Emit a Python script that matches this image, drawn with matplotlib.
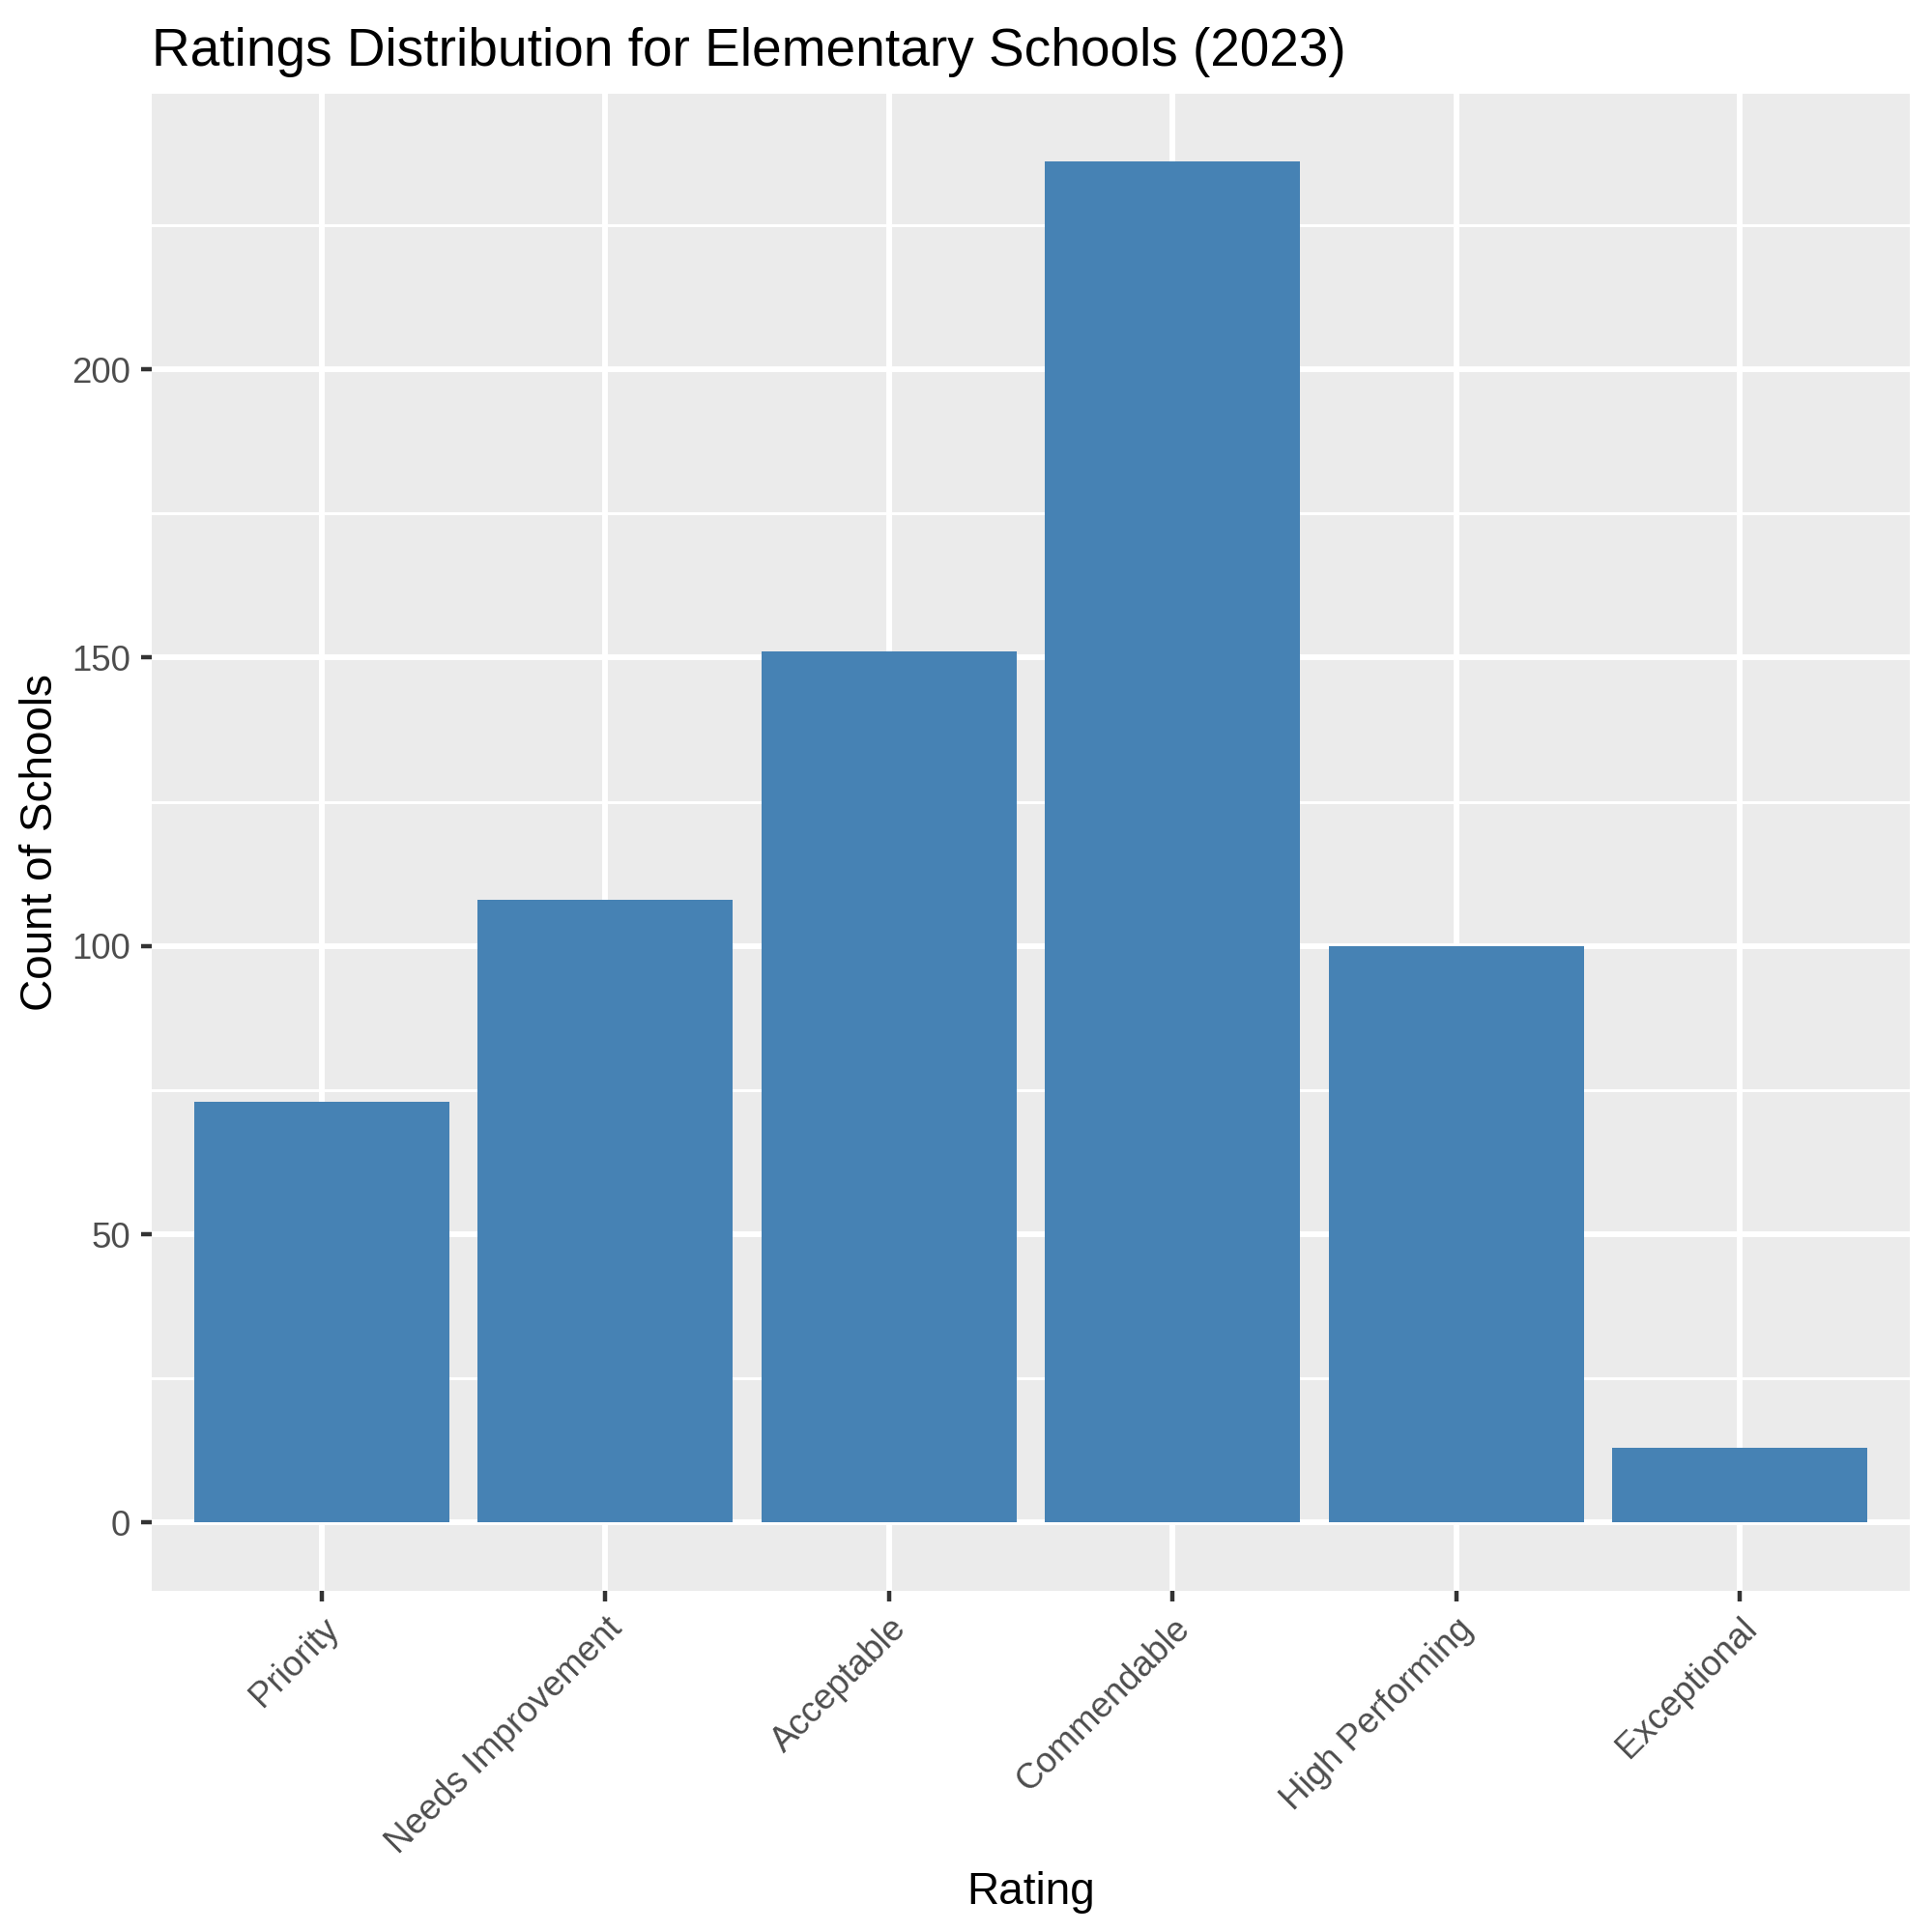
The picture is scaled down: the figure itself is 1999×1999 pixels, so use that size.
import numpy as np
import matplotlib
matplotlib.use("Agg")
from matplotlib import pyplot as plt
from matplotlib.ticker import MultipleLocator

# data
ratings = ["Priority", "Needs Improvement", "Acceptable", "Commendable",
           "High Performing", "Exceptional"]
counts = [73, 108, 151, 236, 100, 13]

plt.rcParams["font.family"] = ["Liberation Sans", "DejaVu Sans"]

fig = plt.figure(figsize=(1999 / 300, 1999 / 300), dpi=300)
ax = fig.add_axes([0.0785, 0.1767, 0.9885 - 0.0785, 0.9515 - 0.1767])

ax.set_facecolor("#EBEBEB")
for s in ax.spines.values():
    s.set_visible(False)

x = np.arange(len(ratings))
ax.bar(x, counts, width=0.9, color="#4682B4", zorder=3)

ymax = max(counts)
ax.set_ylim(-0.05 * ymax, 1.05 * ymax)
ax.set_xlim(-0.6, len(ratings) - 1 + 0.6)

ax.yaxis.set_major_locator(MultipleLocator(50))
ax.yaxis.set_minor_locator(MultipleLocator(25))
ax.set_xticks(x)
ax.set_xticklabels(ratings, rotation=45, ha="right", rotation_mode="anchor")

ax.grid(which="major", color="white", linewidth=1.42, zorder=1)
ax.grid(which="minor", axis="y", color="white", linewidth=0.71, zorder=1)
ax.set_axisbelow(True)

ax.tick_params(which="major", length=2.75, width=1.07, color="#333333",
               labelsize=8.8, labelcolor="#4D4D4D", pad=2.5)
ax.tick_params(which="minor", length=0)

ax.set_xlabel("Rating", fontsize=11, color="black", labelpad=2.5)
ax.set_ylabel("Count of Schools", fontsize=11, color="black", labelpad=2.5)
ax.set_title("Ratings Distribution for Elementary Schools (2023)",
             fontsize=13.2, loc="left", pad=7, color="black")

fig.savefig("out.png", dpi=300)
